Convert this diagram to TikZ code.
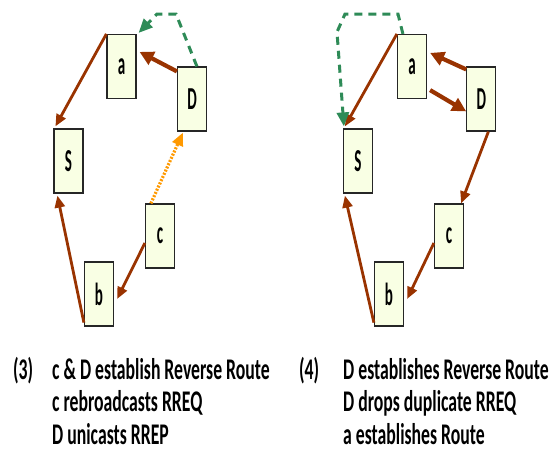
\documentclass[tikz,border=0pt]{standalone}
\usepackage{fontspec}
\setmainfont{Carlito}
\newfontfamily\capfont[FakeStretch=0.59]{Carlito Bold}
\newfontfamily\lblfont[FakeStretch=0.47]{Carlito Bold}
\usetikzlibrary{arrows.meta}
\definecolor{linkbrown}{RGB}{153,51,0}
\definecolor{replyorange}{RGB}{255,153,0}
\definecolor{routegreen}{RGB}{46,139,87}
\definecolor{boxfill}{RGB}{249,255,228}
\tikzset{
  nodebox/.style={draw=black!85, line width=1.2pt, fill=boxfill, minimum width=29pt,
    minimum height=64pt, inner sep=0pt, font=\lblfont\fontsize{32}{32}\selectfont},
  link/.style={draw=linkbrown, line width=2.8pt, -{Triangle[length=12pt,width=10pt]}},
  biglink/.style={draw=linkbrown, line width=4.2pt, -{Triangle[length=14pt,width=14pt]}},
  reply/.style={draw=replyorange, line width=3.2pt, dash pattern=on 2pt off 1.5pt,
    -{Triangle[length=13pt,width=11pt]}},
  route/.style={draw=routegreen, line width=3pt, dash pattern=on 8pt off 6pt,
    -{Triangle[length=14pt,width=12pt]}},
  caption/.style={anchor=base west, inner sep=0pt, font=\capfont\fontsize{30}{30}\selectfont}
}
\begin{document}
\begin{tikzpicture}[x=1pt, y=-1pt]
\useasboundingbox (0,0) rectangle (550,459);

% ---- panel (3) ----
\node[nodebox] (a3) at (121.5,66.5) {a};
\node[nodebox] (D3) at (192,99) {D};
\node[nodebox] (S3) at (68.5,161) {S};
\node[nodebox] (c3) at (160,236) {c};
\node[nodebox] (b3) at (99,294) {b};

\draw[link] (a3.north west) -- ([xshift=2pt,yshift=2pt]S3.north west);
\draw[biglink] ([yshift=-5pt]D3.north west) -- ([xshift=3pt,yshift=-18pt]a3.north east);
\draw[reply] ([xshift=6pt]c3.north west) -- ([xshift=6pt,yshift=-1pt]D3.south west);
\draw[link] ([yshift=-7pt]c3.west) -- ([xshift=3pt,yshift=-5pt]b3.east);
\draw[link] ([yshift=4pt]b3.south west) -- ([xshift=4pt,yshift=-2pt]S3.south west);
\coordinate (g3a) at (176,14);
\coordinate (g3b) at (157,14);
\draw[route] ([xshift=20pt]D3.north west) -- (g3a) -- (g3b) -- ([xshift=2pt,yshift=1pt]a3.north east);

% ---- panel (4) ----
\node[nodebox] (a4) at (412,66.5) {a};
\node[nodebox] (D4) at (481.3,99) {D};
\node[nodebox] (S4) at (358,161) {S};
\node[nodebox] (c4) at (449,236) {c};
\node[nodebox] (b4) at (389,294) {b};

\draw[link] (a4.north west) -- ([xshift=2pt,yshift=2pt]S4.north west);
\draw[biglink] ([yshift=-3pt]D4.north west) -- ([xshift=3pt,yshift=-19pt]a4.north east);
\draw[biglink] ([xshift=3pt,yshift=9pt]a4.south east) -- ([yshift=-45pt]D4.north west);
\draw[link] ([xshift=-8pt]D4.south east) -- ([xshift=-3pt]c4.north east);
\draw[link] ([yshift=-7pt]c4.west) -- ([xshift=3pt,yshift=-5pt]b4.east);
\draw[link] ([yshift=4pt]b4.south west) -- ([xshift=2pt,yshift=-2pt]S4.south west);
\coordinate (g4a) at (398,14);
\coordinate (g4b) at (345,14);
\coordinate (g4c) at (337,32);
\draw[route] ([xshift=6pt]a4.north west) -- (g4a) -- (g4b) -- (g4c) -- ([xshift=1pt,yshift=2pt]S4.north west);

% ---- captions ----
\node[caption] (n3) at (13,379) {(3)};
\node[caption] (t3a) at (52,379) {c \& D establish Reverse Route};
\node[caption] (t3b) at (52,411) {c rebroadcasts RREQ};
\node[caption] (t3c) at (52,444) {D unicasts RREP};
\node[caption] (n4) at (299,379) {(4)};
\node[caption] (t4a) at (343,379) {D establishes Reverse Route};
\node[caption] (t4b) at (343,411) {D drops duplicate RREQ};
\node[caption] (t4c) at (343,444) {a establishes Route};
\end{tikzpicture}
\end{document}
